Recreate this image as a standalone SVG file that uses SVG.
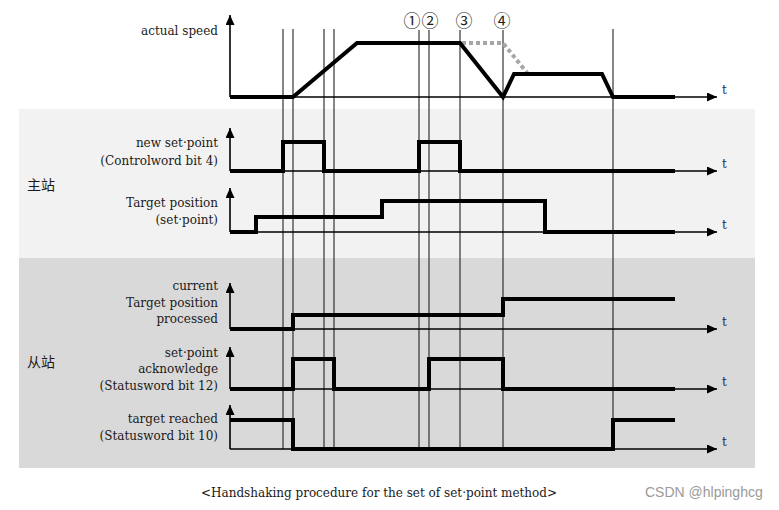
<svg xmlns="http://www.w3.org/2000/svg" width="779" height="510" viewBox="0 0 779 510">
<style>
.lbl{font-family:"DejaVu Serif","Liberation Serif",serif;font-size:12px;fill:#1a1a1a;text-anchor:end}
.cn{font-family:"Noto Sans CJK SC",sans-serif;font-size:14px;fill:#1a1a1a}
.t{font-family:"DejaVu Serif","Liberation Serif",serif;font-size:12px;fill:#1f2f50}
.num{font-family:"Noto Sans CJK JP","DejaVu Sans",sans-serif;font-size:17px;fill:#222;text-anchor:middle}
.axis{stroke:#000;stroke-width:1.6;fill:none}
.sig{stroke:#000;stroke-width:4;fill:none;stroke-linejoin:miter;stroke-linecap:butt}
.guide{stroke:#222;stroke-width:1.1;fill:none}
.ghost{stroke:#a6a6a6;stroke-width:4;fill:none;stroke-dasharray:4 3}
.cap{font-family:"DejaVu Serif","Liberation Serif",serif;font-size:12px;fill:#1a1a1a}
.wm{font-family:"Liberation Sans",Arial,sans-serif;font-size:14px;fill:#9a9a9a}
</style>
<defs>
<marker id="ah" markerUnits="userSpaceOnUse" markerWidth="11" markerHeight="10" refX="10" refY="4.5" orient="auto">
<path d="M0,0 L10,4.5 L0,9 z" fill="#000"/>
</marker>
</defs>
<rect x="0" y="0" width="779" height="510" fill="#fff"/>
<g id="bands">
<rect x="19" y="109" width="736" height="149" fill="#f2f2f2"/>
<rect x="19" y="258" width="736" height="210" fill="#d9d9d9"/>
<text class="cn" x="27" y="190">主站</text>
<text class="cn" x="27" y="367">从站</text>
</g>
<g id="connectors">
<line class="guide" x1="283" y1="29" x2="283" y2="449"/>
<line class="guide" x1="293" y1="29" x2="293" y2="449"/>
<line class="guide" x1="324" y1="29" x2="324" y2="449"/>
<line class="guide" x1="334" y1="29" x2="334" y2="449"/>
<line class="guide" x1="419" y1="30" x2="419" y2="449"/>
<line class="guide" x1="429" y1="30" x2="429" y2="449"/>
<line class="guide" x1="460" y1="30" x2="460" y2="449"/>
<line class="guide" x1="503" y1="30" x2="503" y2="449"/>
<line class="guide" x1="613" y1="29" x2="613" y2="449"/>
</g>
<g id="markers-num">
<text class="num" x="412" y="27">①</text>
<text class="num" x="430" y="27">②</text>
<text class="num" x="464" y="27">③</text>
<text class="num" x="502" y="27">④</text>
</g>
<g id="lane-speed">
<text class="lbl" x="218" y="35">actual speed</text>
<line class="axis" x1="230" y1="97" x2="230" y2="15" marker-end="url(#ah)"/>
<line class="axis" x1="230" y1="97" x2="717" y2="97" marker-end="url(#ah)"/>
<text class="t" x="722" y="94">t</text>
<polyline class="ghost" points="462,43 503,43 528,74"/>
<polyline class="sig" points="230,97 293,97 357,43 460,43 503,97 514,74 602,74 613,97 675,97"/>
</g>
<g id="lane-new-setpoint">
<text class="lbl" x="218" y="147">new set·point</text>
<text class="lbl" x="218" y="165">(Controlword bit 4)</text>
<line class="axis" x1="230" y1="171" x2="230" y2="128" marker-end="url(#ah)"/>
<line class="axis" x1="230" y1="171" x2="717" y2="171" marker-end="url(#ah)"/>
<text class="t" x="722" y="168">t</text>
<polyline class="sig" points="230,171 283,171 283,142 324,142 324,171 419,171 419,142 460,142 460,171 675,171"/>
</g>
<g id="lane-target-position">
<text class="lbl" x="218" y="207">Target position</text>
<text class="lbl" x="218" y="224">(set·point)</text>
<line class="axis" x1="230" y1="232" x2="230" y2="188" marker-end="url(#ah)"/>
<line class="axis" x1="230" y1="232" x2="717" y2="232" marker-end="url(#ah)"/>
<text class="t" x="722" y="229">t</text>
<polyline class="sig" points="230,232 256,232 256,217 382,217 382,201 545,201 545,232 675,232"/>
</g>
<g id="lane-current-target">
<text class="lbl" x="218" y="290">current</text>
<text class="lbl" x="218" y="307">Target position</text>
<text class="lbl" x="218" y="323">processed</text>
<line class="axis" x1="230" y1="329" x2="230" y2="283" marker-end="url(#ah)"/>
<line class="axis" x1="230" y1="329" x2="717" y2="329" marker-end="url(#ah)"/>
<text class="t" x="722" y="326">t</text>
<polyline class="sig" points="230,329 293,329 293,315 503,315 503,299 675,299"/>
</g>
<g id="lane-ack">
<text class="lbl" x="218" y="357">set·point</text>
<text class="lbl" x="218" y="373">acknowledge</text>
<text class="lbl" x="218" y="390">(Statusword bit 12)</text>
<line class="axis" x1="230" y1="389" x2="230" y2="347" marker-end="url(#ah)"/>
<line class="axis" x1="230" y1="389" x2="717" y2="389" marker-end="url(#ah)"/>
<text class="t" x="722" y="386">t</text>
<polyline class="sig" points="230,389 293,389 293,359 334,359 334,389 429,389 429,359 503,359 503,389 675,389"/>
</g>
<g id="lane-reached">
<text class="lbl" x="218" y="423">target reached</text>
<text class="lbl" x="218" y="440">(Statusword bit 10)</text>
<line class="axis" x1="230" y1="449" x2="230" y2="405" marker-end="url(#ah)"/>
<line class="axis" x1="230" y1="449" x2="717" y2="449" marker-end="url(#ah)"/>
<text class="t" x="722" y="446">t</text>
<polyline class="sig" points="230,420 293,420 293,449 613,449 613,420 675,420"/>
</g>
<g id="caption">
<text class="cap" x="201" y="497">&lt;Handshaking procedure for the set of set·point method&gt;</text>
<text class="wm" x="645" y="497">CSDN @hlpinghcg</text>
</g>
</svg>
